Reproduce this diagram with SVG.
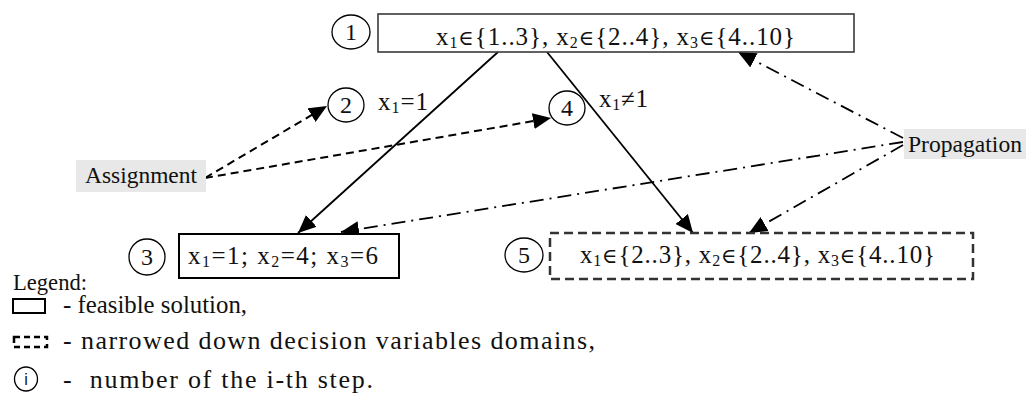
<svg xmlns="http://www.w3.org/2000/svg" width="1027" height="399" viewBox="0 0 1027 399">
<style>
text{font-family:"Liberation Serif","Times New Roman","DejaVu Serif",serif;fill:#111}
.t{font-size:25px}
.m{font-size:23px}
.lg{font-size:26px}
.num{font-size:24px;text-anchor:middle}
.circ{fill:#fff;stroke:#000;stroke-width:1.3}
.solid{stroke:#000;stroke-width:1.8;fill:none}
.dash{stroke:#000;stroke-width:2;fill:none;stroke-dasharray:8 5}
.dd{stroke:#000;stroke-width:1.8;fill:none;stroke-dasharray:14 6 2 6}
.lbl{fill:#e8e8e8}
.sub{font-size:16px}
.el{font-size:21px}
</style>
<defs>
<marker id="ah" viewBox="0 0 18 16" refX="18" refY="8" markerWidth="18" markerHeight="16" orient="auto" markerUnits="userSpaceOnUse">
<path d="M0,0 L18,8 L0,16 z" fill="#000" stroke="none"/>
</marker>
</defs>
<g id="connectors">
<line class="solid" x1="498" y1="52" x2="298" y2="233" marker-end="url(#ah)"/>
<line class="solid" x1="547" y1="52" x2="693" y2="233" marker-end="url(#ah)"/>
<line class="dash" x1="205" y1="178" x2="327" y2="106" marker-end="url(#ah)"/>
<line class="dash" x1="205" y1="178" x2="551" y2="118" marker-end="url(#ah)"/>
<line class="dd" x1="903" y1="138" x2="738" y2="52" marker-end="url(#ah)"/>
<line class="dd" x1="903" y1="142" x2="341" y2="232" marker-end="url(#ah)"/>
<line class="dd" x1="903" y1="145" x2="749" y2="233" marker-end="url(#ah)"/>
</g>
<g id="node1">
<rect x="378" y="14" width="476" height="38" fill="#fff" stroke="#3a3a3a" stroke-width="1.6"/>
<text class="t" x="436" y="45" textLength="359" lengthAdjust="spacing">x<tspan class="sub" dy="3">1</tspan><tspan class="el" dy="-3">∈</tspan>{1..3}, x<tspan class="sub" dy="3">2</tspan><tspan class="el" dy="-3">∈</tspan>{2..4}, x<tspan class="sub" dy="3">3</tspan><tspan class="el" dy="-3">∈</tspan>{4..10}</text>
</g>
<g id="step1"><ellipse class="circ" cx="351" cy="32" rx="19" ry="17"/><text class="num" x="351" y="40">1</text></g>
<g id="step2"><ellipse class="circ" cx="346" cy="105" rx="18" ry="17"/><text class="num" x="346" y="113">2</text></g>
<g id="step3"><ellipse class="circ" cx="147" cy="257" rx="18" ry="18"/><text class="num" x="147" y="265">3</text></g>
<g id="step4"><ellipse class="circ" cx="567" cy="108" rx="18" ry="17"/><text class="num" x="567" y="116">4</text></g>
<g id="step5"><ellipse class="circ" cx="524" cy="255" rx="19" ry="17"/><text class="num" x="524" y="263">5</text></g>
<g id="label-x1eq1"><text class="t" x="378" y="110" textLength="50" lengthAdjust="spacing">x<tspan class="sub" dy="3">1</tspan><tspan dy="-3">=1</tspan></text></g>
<g id="label-x1ne1"><text class="t" x="599" y="107" textLength="49" lengthAdjust="spacing">x<tspan class="sub" dy="3">1</tspan><tspan dy="-3">≠1</tspan></text></g>
<g id="assignment">
<rect class="lbl" x="76" y="160" width="130" height="32"/>
<text class="m" x="85" y="183" textLength="112" lengthAdjust="spacingAndGlyphs">Assignment</text>
</g>
<g id="propagation">
<rect class="lbl" x="904" y="129" width="122" height="30"/>
<text class="m" x="908" y="152" textLength="114" lengthAdjust="spacingAndGlyphs">Propagation</text>
</g>
<g id="node3">
<rect x="179" y="234" width="220" height="44" fill="#fff" stroke="#000" stroke-width="2"/>
<text class="t" x="188" y="264" textLength="190" lengthAdjust="spacing">x<tspan class="sub" dy="3">1</tspan><tspan dy="-3">=1; x</tspan><tspan class="sub" dy="3">2</tspan><tspan dy="-3">=4; x</tspan><tspan class="sub" dy="3">3</tspan><tspan dy="-3">=6</tspan></text>
</g>
<g id="node5">
<rect x="550" y="233" width="423" height="46" fill="#fff" stroke="#333" stroke-width="2.5" stroke-dasharray="9 5"/>
<text class="t" x="580" y="263" textLength="355" lengthAdjust="spacing">x<tspan class="sub" dy="3">1</tspan><tspan class="el" dy="-3">∈</tspan>{2..3}, x<tspan class="sub" dy="3">2</tspan><tspan class="el" dy="-3">∈</tspan>{2..4}, x<tspan class="sub" dy="3">3</tspan><tspan class="el" dy="-3">∈</tspan>{4..10}</text>
</g>
<g id="legend">
<text class="m" x="13" y="290" textLength="74" lengthAdjust="spacingAndGlyphs">Legend:</text>
<rect x="13" y="299" width="32" height="14" fill="#fff" stroke="#000" stroke-width="2"/>
<text class="lg" x="63" y="313" textLength="184" lengthAdjust="spacingAndGlyphs">- feasible solution,</text>
<rect x="14" y="337" width="33" height="10" fill="#fff" stroke="#000" stroke-width="2.5" stroke-dasharray="6 4"/>
<text class="lg" x="63" y="349" textLength="532" lengthAdjust="spacing">- narrowed down decision variables domains,</text>
<ellipse class="circ" cx="26" cy="379" rx="11.5" ry="12"/>
<text x="26" y="385" font-size="16" text-anchor="middle" style="font-family:'Liberation Sans',sans-serif">i</text>
<text class="lg" x="63" y="388" textLength="310" lengthAdjust="spacing" xml:space="preserve">-  number of the i-th step.</text>
</g>
</svg>
